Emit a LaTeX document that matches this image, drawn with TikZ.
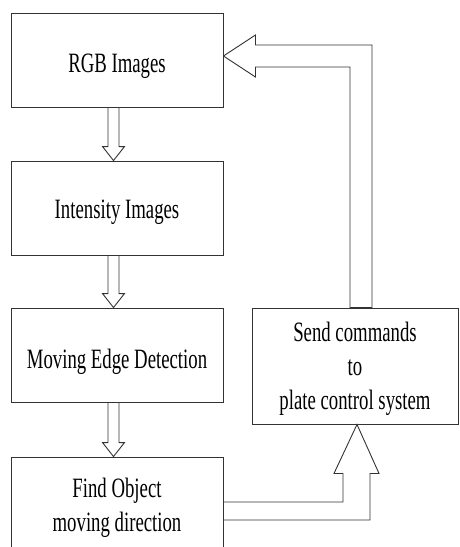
\documentclass[tikz,border=0pt]{standalone}
\usepackage{fontspec}
\setmainfont{Liberation Serif}[FakeStretch=0.67]
\usetikzlibrary{calc}
\begin{document}
\begin{tikzpicture}[x=1pt,y=-1pt,
  box/.style={draw=black!80, line width=0.9pt, minimum width=212pt, minimum height=94pt, inner sep=0pt},
  txt/.style={align=center, font=\fontsize{28}{34}\selectfont, inner sep=0pt},
  barrow/.style={draw=black!80, line width=0.9pt, fill=white, line join=miter}]
\clip (0,0) rectangle (459,547);
\fill[white] (0,0) rectangle (459,547);

\node[box, label={[txt, name=t1, yshift=-6pt]center:RGB Images}] (b1) at (117,60) {};
\node[box, label={[txt, name=t2, yshift=-4pt]center:Intensity Images}] (b2) at (117,208) {};
\node[box, label={[txt, name=t3, yshift=-6.4pt]center:Moving Edge Detection}] (b3) at (117,355) {};
\node[box, minimum height=102pt, label={[txt, name=t4, yshift=0pt]center:Find Object\\moving direction}] (b4) at (117,508) {};
\node[box, minimum width=206pt, minimum height=116pt, label={[txt, name=t5, yshift=-3pt]center:Send commands\\to\\plate control system}] (b5) at (355,366) {};

% down block arrows
\foreach \a/\b in {b1/b2, b2/b3, b3/b4}{
  \draw[barrow] ($(\a.south)+(-9,0)$) -- ($(\b.north)+(-9,-14)$) -- ($(\b.north)+(-14.5,-14)$)
    -- ($(\b.north)+(-3.5,0)$) -- ($(\b.north)+(7.5,-14)$) -- ($(\b.north)+(2,-14)$)
    -- ($(\a.south)+(2,0)$) -- cycle;
}

% feedback arrow to RGB Images
\coordinate (fa) at ($(b1.east)+(0,-4)$);
\coordinate (fi) at ($(b5.north)+(-5,0)$);
\coordinate (fo) at ($(b5.north)+(17,0)$);
\coordinate (fiy) at ($(fa)+(32,11)$);
\coordinate (foy) at ($(fa)+(32,-11)$);
\draw[barrow] (fi) -- (fi |- fiy) -- (fiy) -- ($(fa)+(32,21)$) -- (fa)
  -- ($(fa)+(32,-21)$) -- (foy) -- (fo |- foy) -- (fo) -- cycle;

% arrow from Find Object to Send commands
\coordinate (ba) at ($(b5.south)+(2,0)$);
\coordinate (bi) at ($(b4.east)+(0,-6)$);
\coordinate (bo) at ($(b4.east)+(0,12)$);
\coordinate (bil) at ($(ba)+(-14,49)$);
\coordinate (bol) at ($(ba)+(13,49)$);
\draw[barrow] (bi) -- (bil |- bi) -- (bil) -- ($(ba)+(-23,49)$) -- (ba)
  -- ($(ba)+(22,49)$) -- (bol) -- (bol |- bo) -- (bo) -- cycle;
\end{tikzpicture}
\end{document}
